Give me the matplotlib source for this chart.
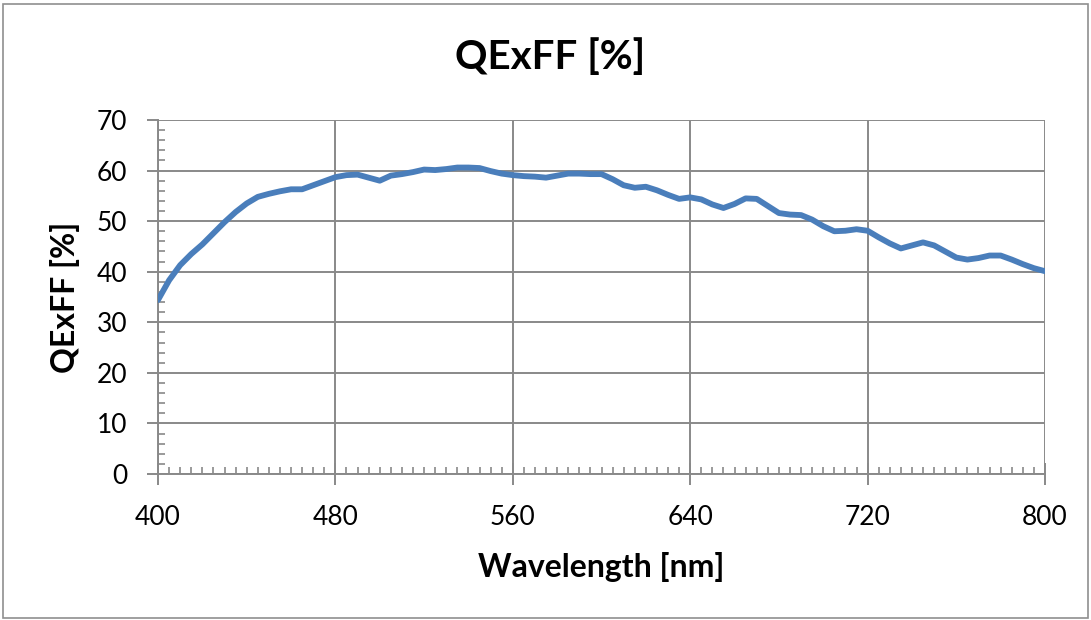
import matplotlib

matplotlib.use("Agg")
import matplotlib.pyplot as plt
from matplotlib.patches import Rectangle
from matplotlib.ticker import MultipleLocator

# QExFF curve, 5 nm steps
wavelength_nm = [
    400, 405, 410, 415, 420, 425, 430, 435, 440, 445, 450, 455, 460, 465, 470,
    475, 480, 485, 490, 495, 500, 505, 510, 515, 520, 525, 530, 535, 540, 545,
    550, 555, 560, 565, 570, 575, 580, 585, 590, 595, 600, 605, 610, 615, 620,
    625, 630, 635, 640, 645, 650, 655, 660, 665, 670, 675, 680, 685, 690, 695,
    700, 705, 710, 715, 720, 725, 730, 735, 740, 745, 750, 755, 760, 765, 770,
    775, 780, 785, 790, 795, 800,
]
qexff_pct = [
    34.4, 38.3, 41.3, 43.5, 45.4, 47.6, 49.8, 51.8, 53.5, 54.8, 55.4, 55.9, 56.3, 56.3, 57.1,
    57.9, 58.7, 59.1, 59.2, 58.6, 58.0, 59.0, 59.3, 59.7, 60.2, 60.1, 60.3, 60.6, 60.6, 60.5,
    59.9, 59.4, 59.1, 58.9, 58.8, 58.6, 59.0, 59.4, 59.4, 59.3, 59.3, 58.3, 57.1, 56.6, 56.8,
    56.1, 55.2, 54.4, 54.7, 54.3, 53.3, 52.6, 53.4, 54.5, 54.4, 53.0, 51.6, 51.3, 51.2, 50.3,
    49.0, 48.0, 48.1, 48.4, 48.1, 46.8, 45.6, 44.6, 45.2, 45.8, 45.2, 44.0, 42.8, 42.4, 42.7,
    43.2, 43.2, 42.4, 41.5, 40.7, 40.1,
]
x_ticks = [400, 480, 560, 640, 720, 800]
y_ticks = [0, 10, 20, 30, 40, 50, 60, 70]

GRAY = "#898989"
FONT = "Lato"

fig = plt.figure(figsize=(10.91, 6.20), dpi=100)
fig.patches.append(Rectangle((0.003, 0.004), 0.994, 0.99, transform=fig.transFigure,
                             fill=False, edgecolor="#8f8f8f", lw=1.2))
ax = fig.add_axes([158 / 1091, 146 / 620, 887 / 1091, 354 / 620])

ax.plot(wavelength_nm, qexff_pct, color="#4a7ebb", lw=4.2, solid_capstyle="round",
        solid_joinstyle="round", zorder=3)

ax.set_xlim(400, 800)
ax.set_ylim(0, 70)
ax.set_xticks(x_ticks)
ax.set_yticks(y_ticks)
ax.xaxis.set_minor_locator(MultipleLocator(5))
ax.yaxis.set_minor_locator(MultipleLocator(2))
ax.grid(True, which="major", color=GRAY, lw=1.4)
ax.set_axisbelow(True)
for s in ax.spines.values():
    s.set_color(GRAY)
    s.set_linewidth(1.4)
ax.spines["top"].set_visible(False)
ax.spines["right"].set_visible(False)

ax.tick_params(axis="x", which="major", direction="inout", length=16, width=1.4, color=GRAY,
               pad=14)
ax.tick_params(axis="y", which="major", direction="out", length=8, width=1.4, color=GRAY, pad=14)
ax.tick_params(which="minor", direction="in", length=5, width=1.2, color=GRAY)
for lab in ax.get_xticklabels() + ax.get_yticklabels():
    lab.set_fontfamily(FONT)
    lab.set_fontsize(19)

ax.set_xlabel("Wavelength [nm]", fontfamily=FONT, fontsize=23, fontweight="bold", labelpad=16)
ax.set_ylabel("QExFF [%]", fontfamily=FONT, fontsize=23, fontweight="bold", labelpad=12)
fig.text(550 / 1091, 1 - 57 / 620, "QExFF [%]", fontfamily=FONT, fontsize=29,
         fontweight="bold", ha="center", va="center")

fig.savefig("out.png", dpi=100)
